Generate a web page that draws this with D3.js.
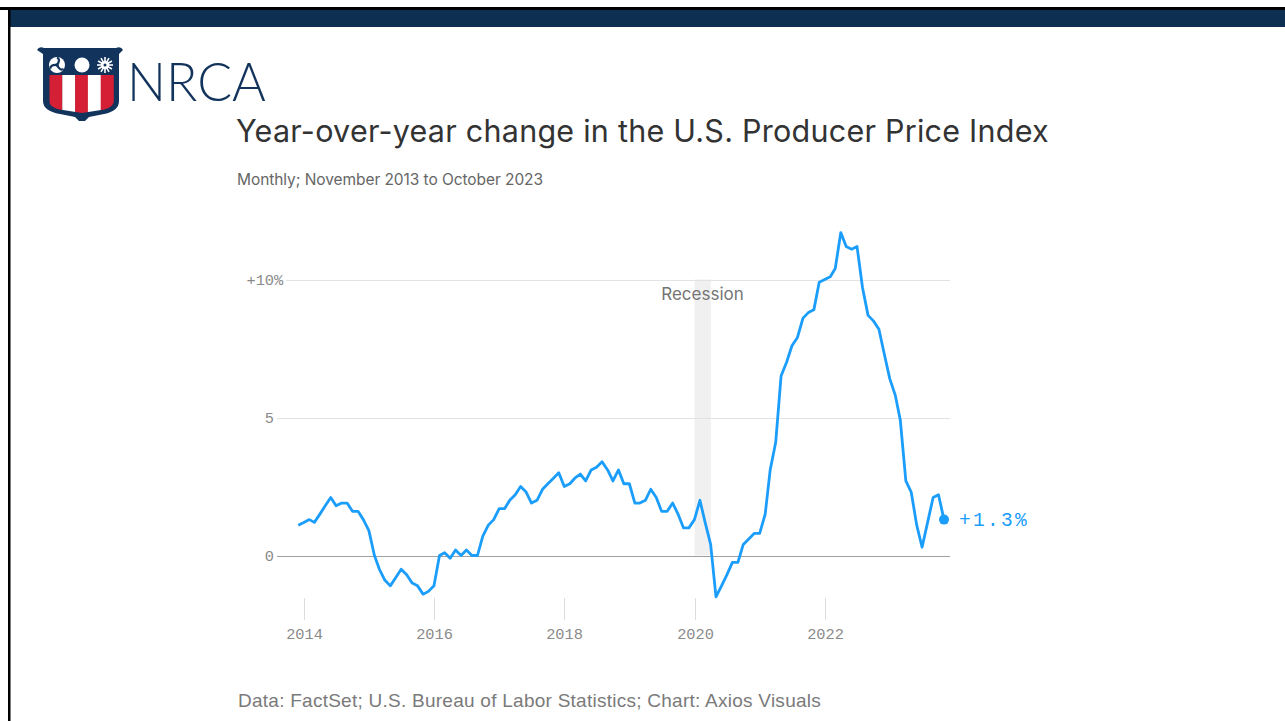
<!DOCTYPE html>
<html>
<head>
<meta charset="utf-8">
<script src="https://cdn.jsdelivr.net/npm/d3@7"></script>
<style>
  html, body { margin: 0; padding: 0; background: #fff; }
  svg { display: block; }
</style>
</head>
<body>
<div id="chart"></div>
<script>
// Monthly PPI year-over-year change, Nov 2013 .. Oct 2023 (percent)
var firstMonth = '2013-11';
var ppiValues = [
  1.1, 1.2, 1.3, 1.2, 1.5, 1.8, 2.1, 1.8, 1.9, 1.9, 1.6, 1.6,       // Nov13-Oct14
  1.3, 0.9, 0.0, -0.5, -0.9, -1.1, -0.8, -0.5, -0.7, -1.0, -1.1, -1.4, // Nov14-Oct15
  -1.3, -1.1, 0.0, 0.1, -0.1, 0.2, 0.0, 0.2, 0.0, 0.0, 0.7, 1.1,   // Nov15-Oct16
  1.3, 1.7, 1.7, 2.0, 2.2, 2.5, 2.3, 1.9, 2.0, 2.4, 2.6, 2.8,       // Nov16-Oct17
  3.0, 2.5, 2.6, 2.8, 2.95, 2.7, 3.1, 3.2, 3.4, 3.1, 2.7, 3.1,      // Nov17-Oct18
  2.6, 2.6, 1.9, 1.9, 2.0, 2.4, 2.1, 1.6, 1.6, 1.9, 1.5, 1.0,       // Nov18-Oct19
  1.0, 1.3, 2.0, 1.2, 0.4, -1.5, -1.1, -0.7, -0.25, -0.25, 0.4, 0.6, // Nov19-Oct20
  0.8, 0.8, 1.5, 3.1, 4.1, 6.5, 7.0, 7.6, 7.9, 8.6, 8.8, 8.9,       // Nov20-Oct21
  9.9, 10.0, 10.1, 10.4, 11.7, 11.2, 11.1, 11.2, 9.7, 8.7, 8.5, 8.2, // Nov21-Oct22
  7.3, 6.4, 5.8, 4.9, 2.7, 2.3, 1.1, 0.3, 1.2, 2.1, 2.2, 1.3        // Nov22-Oct23
];
var yTicks = [0, 5, 10];
var yTickLabels = ['0', '5', '+10'];
var xTickYears = [2014, 2016, 2018, 2020, 2022];
var recessionSpan = ['2020-01', '2020-04'];

var titleText = 'Year-over-year change in the U.S. Producer Price Index';
var subtitleText = 'Monthly; November 2013 to October 2023';
var sourceText = 'Data: FactSet; U.S. Bureau of Labor Statistics; Chart: Axios Visuals';

var lineBlue = '#1b9dfb';
var navy = '#0c2f52';

var W = 1285, H = 721;
var svg = d3.select('#chart').append('svg')
  .attr('width', W).attr('height', H);

// stretch a text to a given width using letter spacing
function fitWidth(sel, width) {
  var n = sel.text().length;
  var len = sel.node().getComputedTextLength();
  sel.attr('letter-spacing', (width - len) / n);
}

// page frame
svg.append('rect').attr('x', 0).attr('y', 7).attr('width', W).attr('height', 3).attr('fill', '#000');
svg.append('rect').attr('x', 8).attr('y', 10).attr('width', W - 8).attr('height', 17).attr('fill', navy);
svg.append('rect').attr('x', 8).attr('y', 7).attr('width', 2.5).attr('height', H - 7).attr('fill', '#000');

// ---- NRCA logo ----
var logo = svg.append('g');
logo.append('path')
  .attr('d', 'M37,50 Q39,46 44,48 L116,48 Q121,46 123,50 L119,54 L119,101 Q119,111 104,114 L89,117 L85,121 L79,121 L75,117 L60,114 Q43,111 43,101 L43,54 Z')
  .attr('fill', '#12335c');
var clip = svg.append('clipPath').attr('id', 'shieldClip');
clip.append('path')
  .attr('d', 'M49,75 L114,75 L114,100 Q114,108 101,110 L82,113 L63,110 Q49,108 49,100 Z');
var stripeColors = ['#d41f34', '#fff', '#d41f34', '#fff', '#d41f34'];
var stripeX = d3.scaleBand().domain(d3.range(5)).range([49.5, 113.5]);
logo.append('g').attr('clip-path', 'url(#shieldClip)')
  .selectAll('rect').data(stripeColors).enter().append('rect')
  .attr('x', function(d, i) { return stripeX(i); })
  .attr('y', 75).attr('width', stripeX.bandwidth() + 0.3).attr('height', 40)
  .attr('fill', function(d) { return d; });
// swirl
logo.append('circle').attr('cx', 57).attr('cy', 65).attr('r', 8).attr('fill', '#fff');
[0, 120, 240].forEach(function(a) {
  logo.append('path')
    .attr('d', 'M57,65 Q61,59 57,57.5')
    .attr('transform', 'rotate(' + a + ',57,65)')
    .attr('fill', 'none').attr('stroke', '#12335c').attr('stroke-width', 2.2);
});
logo.append('circle').attr('cx', 57).attr('cy', 65).attr('r', 1.8).attr('fill', '#12335c');
// sun
logo.append('circle').attr('cx', 82).attr('cy', 65).attr('r', 7.5).attr('fill', '#fff');
// snowflake
var flake = logo.append('g').attr('transform', 'translate(105,65)');
d3.range(6).forEach(function(k) {
  var g = flake.append('g').attr('transform', 'rotate(' + (k * 30) + ')');
  g.append('line').attr('x1', -8).attr('x2', 8).attr('y1', 0).attr('y2', 0)
    .attr('stroke', '#fff').attr('stroke-width', 1.6);
});
flake.append('circle').attr('r', 4).attr('fill', '#fff');
flake.append('circle').attr('r', 1.5).attr('fill', '#12335c');

svg.append('text')
  .attr('x', 127).attr('y', 101)
  .attr('font-family', 'Lato, "Open Sans", sans-serif')
  .attr('font-weight', 300)
  .attr('font-size', 53)
  .attr('fill', '#12335c')
  .attr('textLength', 139).attr('lengthAdjust', 'spacingAndGlyphs')
  .text('NRCA');

// ---- titles ----
var title = svg.append('text')
  .attr('x', 236).attr('y', 142)
  .attr('font-family', 'Inter, sans-serif')
  .attr('font-size', 30.5)
  .attr('fill', '#333')
  .text(titleText);
fitWidth(title, 813);

var subtitle = svg.append('text')
  .attr('x', 237).attr('y', 185)
  .attr('font-family', 'Inter, sans-serif')
  .attr('font-size', 15.5)
  .attr('fill', '#666')
  .text(subtitleText);
fitWidth(subtitle, 306);

var source = svg.append('text')
  .attr('x', 238).attr('y', 707)
  .attr('font-family', '"Liberation Sans", Arial, sans-serif')
  .attr('font-size', 19)
  .attr('fill', '#7a7a7a')
  .text(sourceText);
fitWidth(source, 583);

// ---- chart ----
var parseMonth = d3.timeParse('%Y-%m');
var start = parseMonth(firstMonth);
// each monthly value is plotted at the end of its month
var series = ppiValues.map(function(v, i) {
  var m = d3.timeMonth.offset(start, i + 1);
  return { date: new Date(m.getTime() - 86400000), value: v };
});

var x = d3.scaleTime()
  .domain(d3.extent(series, function(d) { return d.date; }))
  .range([298.3, 944]);
var y = d3.scaleLinear().domain([0, 10]).range([555.5, 279.5]);
var gridRight = 950;

var monoFont = '"Liberation Mono", "DejaVu Sans Mono", monospace';
var tickSize = 15.3;
var tickColor = '#8a8a8a';

// recession band
svg.append('rect')
  .attr('x', x(parseMonth(recessionSpan[0])))
  .attr('width', x(parseMonth(recessionSpan[1])) - x(parseMonth(recessionSpan[0])))
  .attr('y', y(10))
  .attr('height', y(0) - y(10))
  .attr('fill', '#f0f0f0');

// y grid + labels
var yAxis = svg.append('g');
yTicks.forEach(function(t, i) {
  var lbl = yTickLabels[i];
  var row = yAxis.append('g');
  row.append('text')
    .attr('x', 274).attr('y', y(t)).attr('dy', '0.35em')
    .attr('text-anchor', 'end')
    .attr('font-family', monoFont).attr('font-size', tickSize)
    .attr('fill', tickColor)
    .text(lbl);
  var right = 274;
  if (t === 10) {
    var pct = row.append('text')
      .attr('x', 274).attr('y', y(t)).attr('dy', '0.35em')
      .attr('font-family', monoFont).attr('font-size', tickSize)
      .attr('fill', tickColor)
      .text('%');
    right = 274 + pct.node().getComputedTextLength();
  }
  row.insert('line', 'text')
    .attr('x1', right + 3).attr('x2', gridRight)
    .attr('y1', Math.round(y(t)) + 0.5).attr('y2', Math.round(y(t)) + 0.5)
    .attr('stroke', t === 0 ? '#a0a0a0' : '#e2e2e2')
    .attr('stroke-width', 1);
});

// x ticks
var xAxis = svg.append('g');
xTickYears.forEach(function(yr) {
  var px = Math.round(x(new Date(yr, 0, 1))) + 0.5;
  xAxis.append('line')
    .attr('x1', px).attr('x2', px).attr('y1', 598).attr('y2', 620)
    .attr('stroke', '#dcdcdc');
  xAxis.append('text')
    .attr('x', px).attr('y', 639)
    .attr('text-anchor', 'middle')
    .attr('font-family', monoFont).attr('font-size', tickSize)
    .attr('fill', tickColor)
    .text(yr);
});

svg.append('text')
  .attr('x', 702.5).attr('y', 300)
  .attr('text-anchor', 'middle')
  .attr('font-family', 'Inter, sans-serif')
  .attr('font-size', 17)
  .attr('fill', '#757575')
  .text('Recession');

// line
var line = d3.line()
  .x(function(d) { return x(d.date); })
  .y(function(d) { return y(d.value); });

svg.append('path')
  .datum(series)
  .attr('d', line)
  .attr('fill', 'none')
  .attr('stroke', lineBlue)
  .attr('stroke-width', 2.8)
  .attr('stroke-linejoin', 'round');

var last = series[series.length - 1];
svg.append('circle')
  .attr('cx', x(last.date)).attr('cy', y(last.value))
  .attr('r', 5).attr('fill', lineBlue);

var endLabel = svg.append('text')
  .attr('x', x(last.date) + 15).attr('y', y(last.value)).attr('dy', '0.35em')
  .attr('font-family', monoFont).attr('font-size', 19.5)
  .attr('fill', lineBlue)
  .text('+' + d3.format('.1f')(last.value) + '%');
fitWidth(endLabel, 70);
</script>
</body>
</html>
